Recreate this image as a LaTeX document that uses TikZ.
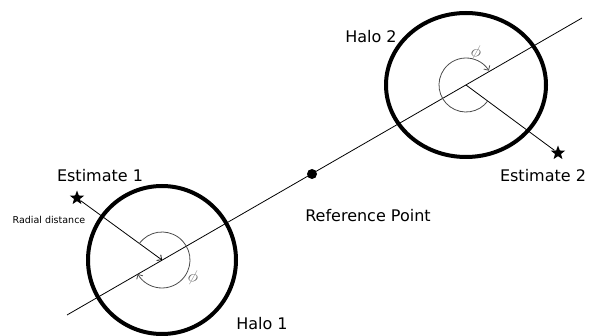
\documentclass[tikz,border=0pt]{standalone}
\usepackage{fontspec}
\setmainfont{DejaVu Sans}
\usetikzlibrary{shapes.geometric, arrows.meta}
\begin{document}
\begin{tikzpicture}[x=1pt, y=1pt,
    halo/.style={line width=4pt},
    estar/.style={star, star points=5, star point ratio=2.4, fill=black, inner sep=0pt, minimum size=15pt},
    thin line/.style={line width=0.8pt},
    tip/.style={-{Straight Barb[length=3.5pt, width=7pt]}},
    anglearc/.style={black!70, line width=0.8pt, tip},
    lbl/.style={font=\fontsize{16}{18}\selectfont, inner sep=0pt}]
    \useasboundingbox (0,0) rectangle (589,335);

    % Halo centres and the line through them
    \coordinate (h1) at (162,75);
    \coordinate (h2) at (466,250);
    \coordinate (a1) at (67,20);
    \coordinate (a2) at (582,317);
    \draw[thin line] (a1) -- (a2);

    % Halos
    \draw[halo] (h1) circle[radius=74];
    \draw[halo] (h2) ellipse[x radius=80, y radius=72];

    % Reference point
    \node[circle, fill=black, minimum size=10pt, inner sep=0pt] (ref) at (312,161) {};
    \node[lbl] (reflbl) at (368,119) {Reference Point};

    % Estimates
    \node[estar] (est1) at (77,137) {};
    \node[estar] (est2) at (558,182) {};
    \draw[thin line, tip] (est1) -- (h1);
    \draw[thin line] (h2) -- (est2);

    % Angles
    \draw[anglearc] (h1) ++(144:28) arc[start angle=144, end angle=-150, radius=28];
    \draw[anglearc] (h2) ++(-36:27) arc[start angle=-36, end angle=-328, radius=27];
    \node[font=\fontsize{17}{18}\selectfont, gray!80!black, rotate=-15] (phi1) at (193,57) {$\phi$};
    \node[font=\fontsize{17}{18}\selectfont, gray!80!black, rotate=-15] (phi2) at (476,282) {$\phi$};

    % Labels
    \node[lbl] (e1lbl) at (100,159) {Estimate 1};
    \node[lbl] (e2lbl) at (543,159) {Estimate 2};
    \node[lbl] (h1lbl) at (262,11) {Halo 1};
    \node[lbl] (h2lbl) at (371,298) {Halo 2};
    \node[font=\fontsize{9.5}{10}\selectfont, inner sep=0pt] (radlbl) at (49,115) {Radial distance};
\end{tikzpicture}
\end{document}
